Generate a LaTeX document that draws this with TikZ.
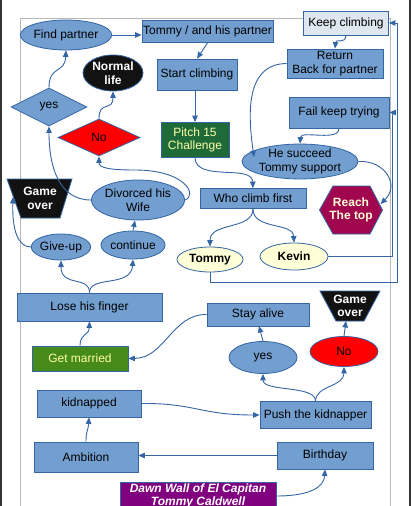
\documentclass[tikz,border=0pt]{standalone}
\usepackage{fontspec}
\setmainfont{Liberation Sans}
\usetikzlibrary{shapes.geometric,arrows.meta}
\definecolor{lblue}{HTML}{729FCF}
\definecolor{bord}{HTML}{3465A4}
\definecolor{kgray}{HTML}{DEE6EF}
\definecolor{pgreen}{HTML}{1E6A39}
\definecolor{lgreen}{HTML}{468A1A}
\definecolor{lyel}{HTML}{FFFFA6}
\definecolor{cream}{HTML}{FFFFD7}
\definecolor{maroon}{HTML}{A1074E}
\definecolor{purp}{HTML}{800080}
\definecolor{pageline}{HTML}{B8B8B8}
\newcommand{\fs}{\fontsize{12}{13.5}\selectfont}
\tikzset{
  base/.style={draw=bord, line width=0.8pt, inner sep=0pt, align=center, font=\fs},
  bbox/.style={base, rectangle, fill=lblue},
  bell/.style={base, ellipse, fill=lblue},
  conn/.style={draw=bord, line width=0.9pt, -{Triangle[length=6.5pt,width=5.5pt]}},
  darkfill/.style={fill=black!93, draw=bord, line width=0.8pt},
}
\begin{document}
\begin{tikzpicture}[x=1pt,y=-1pt]
\useasboundingbox (0,0) rectangle (411,506);
\clip (0,0) rectangle (411,506);
\fill[white] (0,0) rectangle (411,506);
% page frame
\draw[pageline, line width=0.6pt] (20,520) -- (20,18) -- (390,18) -- (390,520);
\fill[black!80] (0,0) rectangle (2,506);
\fill[black!80] (408.5,0) rectangle (411,506);

% nodes
\node[bell, minimum width=72, minimum height=30] (find) at (66,35) {Find partner};
\node[bbox, minimum width=131, minimum height=22] (tp) at (207.5,31.5) {Tommy / and his partner};
\node[base, rectangle, fill=kgray, minimum width=85, minimum height=24] (keep) at (346,23) {Keep climbing};
\node[base, ellipse, fill=black!93, text=white, font=\fs\bfseries, minimum width=60, minimum height=36] (normal) at (113,73) {Normal\\life};
\node[bbox, minimum width=80, minimum height=31] (start) at (197,74.5) {Start climbing};
\node[bbox, minimum width=96, minimum height=29] (ret) at (335,63.5) {Return\\Back for partner};
\node[base, diamond, fill=lblue, minimum width=76, minimum height=38] (yesA) at (49,107) {yes};
\node[base, diamond, fill=red, minimum width=82, minimum height=37] (noA) at (99,137.5) {No};
\node[bbox, minimum width=100, minimum height=31] (fail) at (339,112.5) {Fail keep trying};
\node[base, rectangle, fill=pgreen, text=lyel, minimum width=68, minimum height=35] (pitch) at (195,140) {Pitch 15\\Challenge};
\node[bell, minimum width=94, minimum height=33] (succ) at (300,161.5) {He succeed\\Tommy support};

% Reach the top hexagon
\filldraw[fill=maroon, draw=bord, line width=0.8pt] (319.5,210) -- (333,186) -- (370,186) -- (382.5,210) -- (370,234) -- (333,234) -- cycle;
\node[inner sep=0pt, align=center, font=\fs\bfseries, text=cream, minimum width=63, minimum height=48] (reach) at (351,210) {Reach\\The top};

% Game over left trapezoid
\filldraw[darkfill] (7,179) -- (72,179) -- (60,218) -- (21,218) -- cycle;
\node[inner sep=0pt, align=center, font=\fs\bfseries, text=white, minimum width=50, minimum height=39] (goA) at (40,198.5) {Game\\over};

\node[bell, minimum width=84, minimum height=40] (div) at (138,200) {Divorced his\\Wife};
\node[bbox, minimum width=106, minimum height=20] (who) at (253,198.5) {Who climb first};
\node[bell, minimum width=59, minimum height=26] (give) at (61,247) {Give-up};
\node[bell, minimum width=58, minimum height=28] (cont) at (133,245) {continue};
\node[base, ellipse, fill=cream, font=\fs\bfseries, minimum width=66, minimum height=25] (tommy) at (210,259.5) {Tommy};
\node[base, ellipse, fill=cream, font=\fs\bfseries, minimum width=68, minimum height=27] (kevin) at (294,256.5) {Kevin};
\node[bbox, minimum width=145, minimum height=28] (lose) at (89.5,307) {Lose his finger};
\node[bbox, minimum width=102, minimum height=23] (stay) at (258,314.5) {Stay alive};

% Game over right trapezoid
\filldraw[darkfill] (320,291) -- (380,291) -- (364,321) -- (336,321) -- cycle;
\node[inner sep=0pt, align=center, font=\fs\bfseries, text=white, minimum width=44, minimum height=30] (goB) at (350,306) {Game\\over};

\node[base, rectangle, fill=lgreen, text=lyel, minimum width=96, minimum height=25] (married) at (80,358.5) {Get married};
\node[bell, minimum width=68, minimum height=32] (yesB) at (263,357.5) {yes};
\node[base, ellipse, fill=red, minimum width=68, minimum height=30] (noB) at (344,351.5) {No};
\node[bbox, minimum width=104, minimum height=27] (kid) at (89,403.5) {kidnapped};
\node[bbox, minimum width=111, minimum height=27] (push) at (315.5,415) {Push the kidnapper};
\node[bbox, minimum width=104, minimum height=30] (amb) at (86,457) {Ambition};
\node[bbox, minimum width=96, minimum height=27] (bday) at (325,455.5) {Birthday};
\node[base, rectangle, fill=purp, text=white, font=\fs\bfseries\itshape, minimum width=156, minimum height=28] (dawn) at (198,496) {Dawn Wall of El Capitan\\Tommy Caldwell};

% connectors
\draw[conn] (find.east) -- (find.east -| tp.west);
\draw[conn] (tp.south) -- (start.north);
\draw[conn] (pitch.north |- start.south) -- (pitch.north);
\draw[conn] (pitch.south) .. controls (196,182) and (252,164) .. (who.north);
\draw[conn] (keep.south) .. controls (345,45) and (336,38) .. (ret.north);
\coordinate (succin) at (254,157);
\draw[conn] (ret.west) .. controls (245,64) and (248,115) .. (succin);
\draw[conn] (fail.south) .. controls (339,142) and (301,130) .. (succ.north);
\coordinate (reachin) at (380.5,204);
\draw[conn] (succ.east) .. controls (385,160) and (400,185) .. (reachin);
\draw[conn] (who.south) .. controls (253,230) and (210,222) .. (tommy.north);
\draw[conn] (who.south) .. controls (253,230) and (293,222) .. (kevin.north);
\draw[conn] (kevin.east) -- (392,256.5) |- (fail.east);
\draw[conn] (tommy.south) |- (397,282) -- (397,23) -- (keep.east);
\draw[conn] (div.east) .. controls (198,195) and (185,170) .. (135,170) .. controls (110,170) and (99,168) .. (noA.south);
\draw[conn] (div.west) .. controls (58,200) and (49,165) .. (yesA.south);
\draw[conn] (yesA.north) .. controls (49,65) and (65,74) .. (find.south);
\draw[conn] (noA.north) .. controls (99,100) and (113,112) .. (normal.south);
\draw[conn] (cont.north) -- (135,220.5);
\coordinate (goAin) at (13,197);
\draw[conn] (give.west) .. controls (18,247) and (12,230) .. (goAin);
\draw[conn] (lose.north) .. controls (89.5,275) and (61,288) .. (give.south);
\draw[conn] (lose.north) .. controls (89.5,275) and (131,288) .. (cont.south);
\draw[conn] (married.north) .. controls (80,333) and (89,336) .. (lose.south);
\draw[conn] (stay.west) .. controls (172,314) and (165,358) .. (married.east);
\draw[conn] (yesB.north) -- (259,326);
\draw[conn] (noB.north) -- (346,321);
\draw[conn] (push.north) .. controls (316,385) and (263,392) .. (yesB.south);
\draw[conn] (push.north) .. controls (316,385) and (344,387) .. (noB.south);
\draw[conn] (kid.east) .. controls (195,403) and (200,415) .. (push.west);
\draw[conn] (amb.north) .. controls (86,430) and (88,432) .. (kid.south);
\draw[conn] (bday.west) -- (bday.west -| amb.east);
\draw[conn] (dawn.east) .. controls (310,496) and (324,487) .. (bday.south);
\end{tikzpicture}
\end{document}
